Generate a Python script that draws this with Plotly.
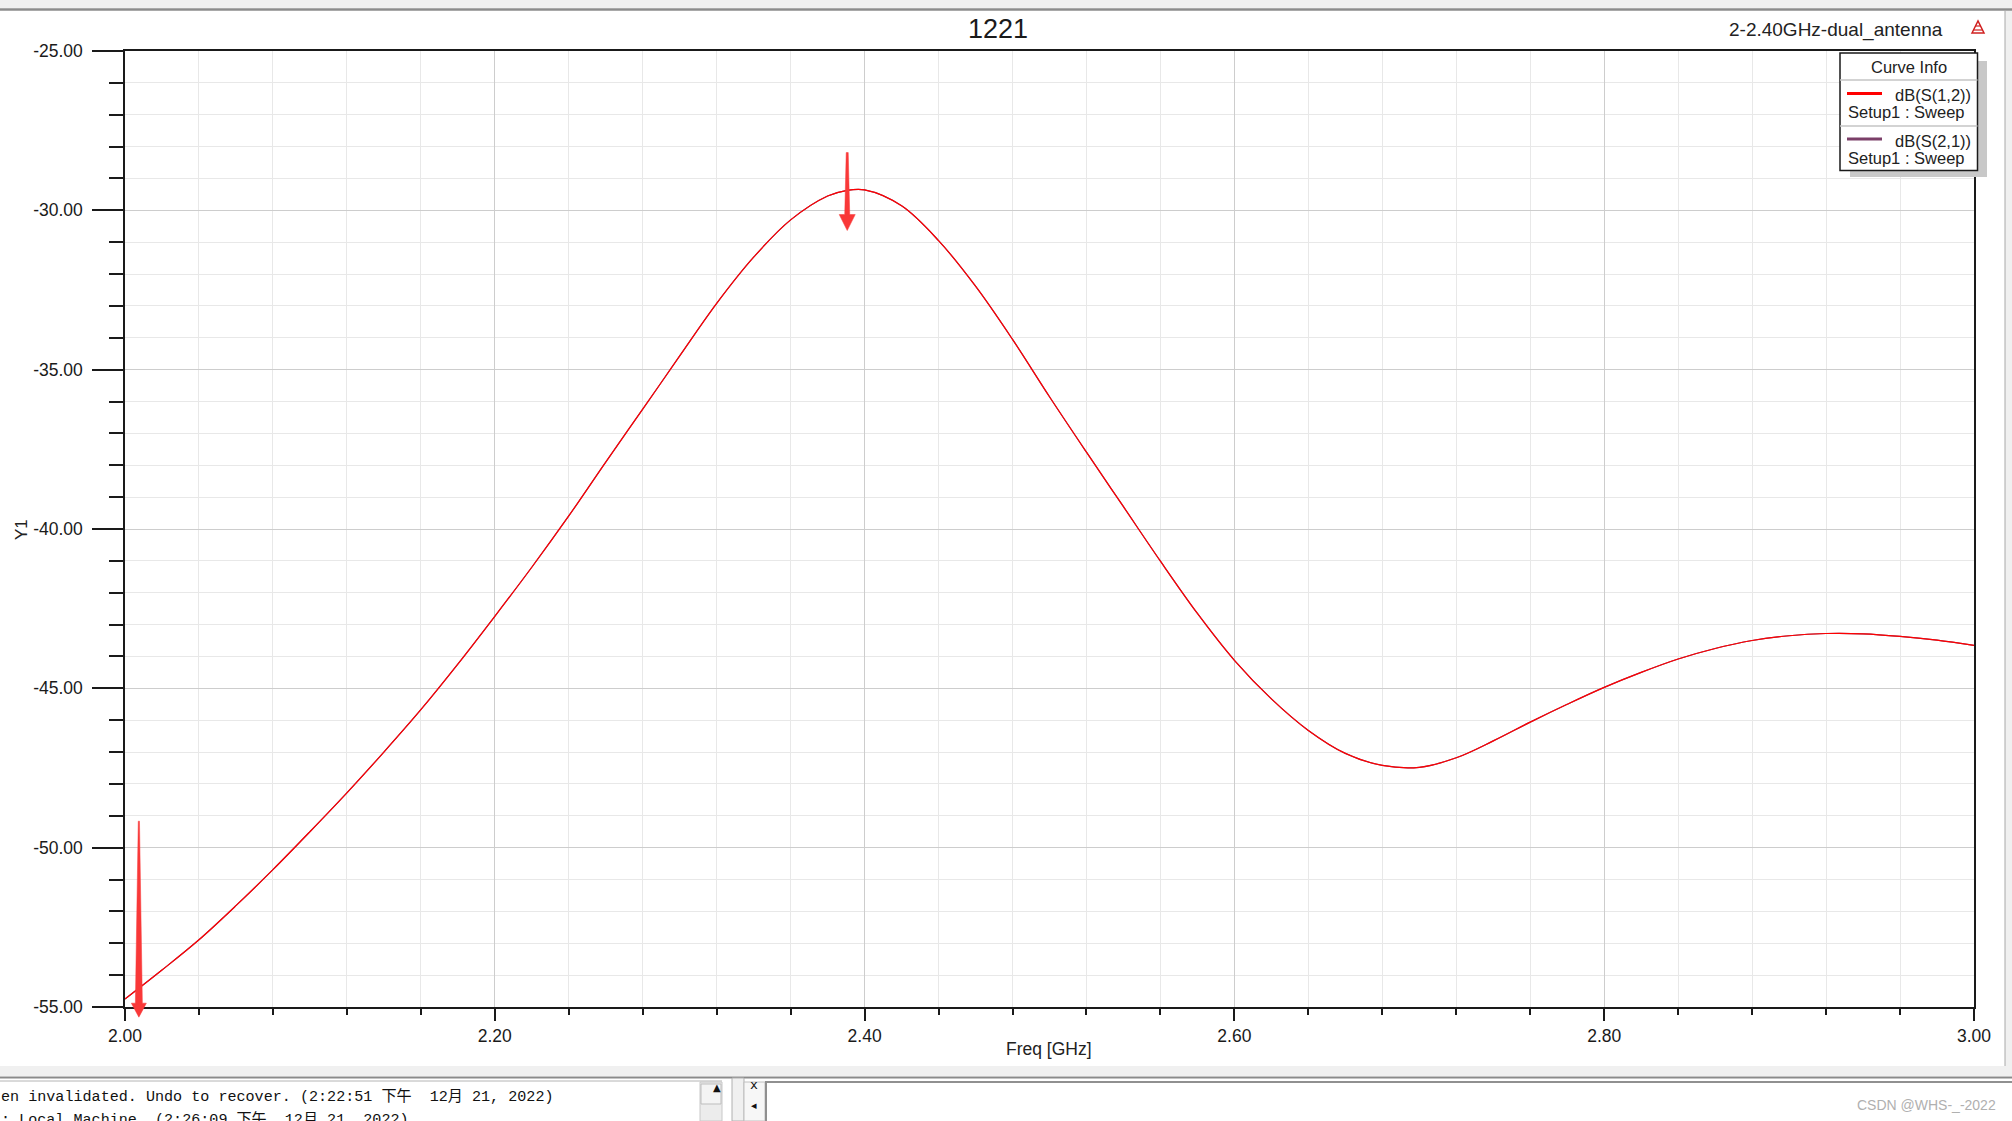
import numpy as np
import plotly.graph_objects as go

# ---------------- data ----------------
freq_ghz = [2.00, 2.02, 2.04, 2.06, 2.08, 2.10, 2.12, 2.14, 2.16, 2.18,
            2.20, 2.22, 2.24, 2.26, 2.28, 2.30, 2.32, 2.34, 2.36, 2.38,
            2.39, 2.40, 2.42, 2.44, 2.46, 2.48, 2.50, 2.52, 2.54, 2.56,
            2.58, 2.60, 2.62, 2.64, 2.66, 2.68, 2.70, 2.72, 2.74, 2.76,
            2.78, 2.80, 2.82, 2.84, 2.86, 2.88, 2.90, 2.92, 2.94, 2.96,
            2.98, 3.00]
s12_db = [-54.75, -53.84, -52.89, -51.82, -50.69, -49.50, -48.28, -47.00, -45.67, -44.24,
          -42.74, -41.20, -39.59, -37.90, -36.24, -34.57, -32.92, -31.47, -30.30, -29.55,
          -29.38, -29.36, -29.86, -30.95, -32.38, -34.05, -35.85, -37.59, -39.30, -41.01,
          -42.65, -44.12, -45.33, -46.32, -47.04, -47.42, -47.48, -47.18, -46.65, -46.06,
          -45.50, -44.97, -44.50, -44.08, -43.75, -43.50, -43.35, -43.28, -43.29, -43.37,
          -43.49, -43.65]
s21_db = list(s12_db)  # reciprocal network: dB(S(2,1)) lies under dB(S(1,2))

x_tick_vals = [2.0, 2.2, 2.4, 2.6, 2.8, 3.0]
x_tick_text = ["2.00", "2.20", "2.40", "2.60", "2.80", "3.00"]
y_tick_vals = [-25, -30, -35, -40, -45, -50, -55]
y_tick_text = ["-25.00", "-30.00", "-35.00", "-40.00", "-45.00", "-50.00", "-55.00"]

marker_freqs = [2.3906, 2.0075]

trace_names = ["dB(S(1,2))", "dB(S(2,1))"]
setup_label = "Setup1 : Sweep"
plot_title = "1221"
project_title = "2-2.40GHz-dual_antenna"
status_lines = ["en invalidated. Undo to recover. (2:22:51 下午  12月 21, 2022)",
                ": Local Machine  (2:26:09 下午  12月 21, 2022)"]
watermark = "CSDN @WHS-_-2022"

# ---------------- layout constants ----------------
W, H = 2012, 1121
ML, MR, MT, MB = 125, 38, 51, 114
PW, PH = W - ML - MR, H - MT - MB
X_RANGE = [2.0, 3.0]
Y_RANGE = [-55.0, -25.0]
FONT = "Liberation Sans, Arial, sans-serif"
RED = "#ff0000"
PURPLE = "#7b3f68"


def px(x):
    return (x - ML) / PW


def py(y):
    return 1 - (y - MT) / PH


fig = go.Figure()
fig.add_trace(go.Scatter(x=freq_ghz, y=s21_db, mode="lines", name=trace_names[1],
                         line=dict(color=PURPLE, width=1.2, shape="spline", smoothing=1.0)))
fig.add_trace(go.Scatter(x=freq_ghz, y=s12_db, mode="lines", name=trace_names[0],
                         line=dict(color=RED, width=1.2, shape="spline", smoothing=1.0)))

shapes = []
annotations = []


def rect(x0, y0, x1, y1, fill, line=None, lw=0, layer="above"):
    shapes.append(dict(type="rect", xref="paper", yref="paper", x0=px(x0), x1=px(x1),
                       y0=py(y0), y1=py(y1), fillcolor=fill,
                       line=dict(color=line or fill, width=lw), layer=layer))


def hline(x0, x1, y, color, w=1):
    shapes.append(dict(type="line", xref="paper", yref="paper", x0=px(x0), x1=px(x1),
                       y0=py(y), y1=py(y), line=dict(color=color, width=w)))


def vline(x, y0, y1, color, w=1):
    shapes.append(dict(type="line", xref="paper", yref="paper", x0=px(x), x1=px(x),
                       y0=py(y0), y1=py(y1), line=dict(color=color, width=w)))


# window chrome
rect(0, 0, W, 8, "#f0f0f0")
hline(0, W, 9.5, "#8c8c8c", 2.5)
rect(2005, 11, W, 1076, "#f0f0f0")
vline(2005, 11, 1076, "#a8a8a8", 1)
rect(0, 1066, W, 1076, "#f0f0f0")
hline(0, W, 1077.5, "#8a8a8a", 2)
hline(0, 722, 1081, "#b4b4b4", 1)
# scrollbar
rect(700, 1082, 722, H, "#ececec", "#c8c8c8", 1)
rect(701, 1084, 721, 1104, "#f4f4f4", "#bdbdbd", 1)
annotations.append(dict(text="▲", x=px(711), y=py(1095), xref="paper", yref="paper",
                        showarrow=False, font=dict(size=10, color="#111", family="DejaVu Sans")))
rect(732, 1078, 744, H, "#f0f0f0", "#b0b0b0", 1)
rect(744, 1082, 765, H, "#f7f7f7", "#c0c0c0", 1)
annotations.append(dict(text="x", x=px(754), y=py(1094), xref="paper", yref="paper",
                        showarrow=False, font=dict(size=13, color="#111", family="DejaVu Sans Mono")))
annotations.append(dict(text="◂", x=px(754), y=py(1114), xref="paper", yref="paper",
                        showarrow=False, font=dict(size=11, color="#111", family="DejaVu Sans")))
hline(765, W, 1082, "#909090", 2)
vline(766, 1082, H, "#909090", 2)

for i, line in enumerate(status_lines):
    annotations.append(dict(text=line, x=px(-1), y=py(1097 + 23 * i), xref="paper", yref="paper",
                            xanchor="left", yanchor="middle", showarrow=False,
                            font=dict(size=15.1, color="#111",
                                      family="Liberation Mono, Noto Sans CJK SC, monospace")))
annotations.append(dict(text=watermark, x=px(1998), y=py(1105), xref="paper", yref="paper",
                        xanchor="right", yanchor="middle", showarrow=False,
                        font=dict(size=14, color="#b0b0b0", family=FONT)))

# titles
annotations.append(dict(text=plot_title, x=px(998), y=py(29), xref="paper", yref="paper",
                        xanchor="center", yanchor="middle", showarrow=False,
                        font=dict(size=27, color="#1a1a1a", family=FONT)))
annotations.append(dict(text=project_title, x=px(1945), y=py(30), xref="paper", yref="paper",
                        xanchor="right", yanchor="middle", showarrow=False,
                        font=dict(size=19, color="#222", family=FONT)))
# small red HFSS icon
shapes.append(dict(type="path", xref="paper", yref="paper",
                   path="M {0},{1} L {2},{3} L {4},{1} Z".format(px(1972), py(33), px(1978), py(21), px(1984)),
                   fillcolor="rgba(0,0,0,0)", line=dict(color="#d02020", width=1.5)))
for yy, xa, xb in ((26, 1975, 1981), (30, 1973.5, 1982.5)):
    hline(xa, xb, yy, "#d02020", 1.2)

# axis titles
annotations.append(dict(text="Freq [GHz]", x=px(1049), y=py(1049), xref="paper", yref="paper",
                        xanchor="center", yanchor="middle", showarrow=False,
                        font=dict(size=17.5, color="#222", family=FONT)))
annotations.append(dict(text="Y1", x=px(21), y=py(530), xref="paper", yref="paper",
                        xanchor="center", yanchor="middle", showarrow=False, textangle=-90,
                        font=dict(size=17, color="#222", family=FONT)))

# legend ("Curve Info") box
rect(1850, 61, 1987, 177, "#c8c8c8")
rect(1840, 53, 1977.5, 170.5, "#ffffff", "#1a1a1a", 1.5)
hline(1840, 1977.5, 80, "#c4c4c4", 1.5)
hline(1840, 1977.5, 126, "#c4c4c4", 1.5)
annotations.append(dict(text="Curve Info", x=px(1909), y=py(67), xref="paper", yref="paper",
                        xanchor="center", yanchor="middle", showarrow=False,
                        font=dict(size=16.5, color="#222", family=FONT)))
for i, (name, col) in enumerate([(trace_names[0], RED), (trace_names[1], PURPLE)]):
    y0 = 94 + 45.5 * i
    hline(1847, 1882, y0 - 0.5, col, 2.8)
    annotations.append(dict(text=name, x=px(1973), y=py(y0 + 1), xref="paper", yref="paper",
                            xanchor="right", yanchor="middle", showarrow=False,
                            font=dict(size=16.5, color="#222", family=FONT)))
    annotations.append(dict(text=setup_label, x=px(1846), y=py(y0 + 18.5), xref="paper", yref="paper",
                            xanchor="left", yanchor="middle", showarrow=False,
                            font=dict(size=16.5, color="#222", family=FONT)))

# red marker arrows (anchored on the curve)
marker_vals = np.interp(marker_freqs, freq_ghz, s12_db)
arrow_paths = [
    "M -1,38 L 1,38 L 2.5,-24 L 8,-24 L 0,-40 L -8,-24 L -2.5,-24 Z",
    "M -0.6,167 L 0.6,167 L 3.5,-15 L 7.5,-15 L 0,-29 L -7.5,-15 L -3.5,-15 Z",
]
for f, v, pth in zip(marker_freqs, marker_vals, arrow_paths):
    yfrac = (v - Y_RANGE[0]) / (Y_RANGE[1] - Y_RANGE[0])
    shapes.append(dict(type="path", xref="x", yref="paper", xsizemode="pixel", ysizemode="pixel",
                       xanchor=f, yanchor=yfrac, path=pth, fillcolor="#f93838",
                       line=dict(color="#f93838", width=0.5), layer="above"))

axis_common = dict(showline=True, linecolor="#1a1a1a", linewidth=1.5, mirror=True,
                   ticks="outside", tickcolor="#1a1a1a", tickwidth=1.5,
                   tickfont=dict(size=17.5, color="#1a1a1a", family=FONT),
                   showgrid=True, gridcolor="#cdcdcd", gridwidth=1, zeroline=False,
                   tickmode="array")

fig.update_layout(
    width=W, height=H,
    margin=dict(l=ML, r=MR, t=MT, b=MB, pad=0),
    paper_bgcolor="#ffffff", plot_bgcolor="#ffffff",
    showlegend=False,
    shapes=shapes, annotations=annotations,
    xaxis=dict(range=X_RANGE, tickvals=x_tick_vals, ticktext=x_tick_text, ticklen=12,
               minor=dict(dtick=0.04, tick0=2.0, ticklen=6, tickcolor="#1a1a1a", tickwidth=1.5,
                          showgrid=True, gridcolor="#e8e8e8", gridwidth=1),
               **axis_common),
    yaxis=dict(range=Y_RANGE, tickvals=y_tick_vals, ticktext=y_tick_text, ticklen=31,
               ticklabelstandoff=6,
               minor=dict(dtick=1, tick0=-55, ticklen=14, tickcolor="#1a1a1a", tickwidth=1.5,
                          showgrid=True, gridcolor="#e8e8e8", gridwidth=1),
               **axis_common),
)

fig.write_html("out.html")
